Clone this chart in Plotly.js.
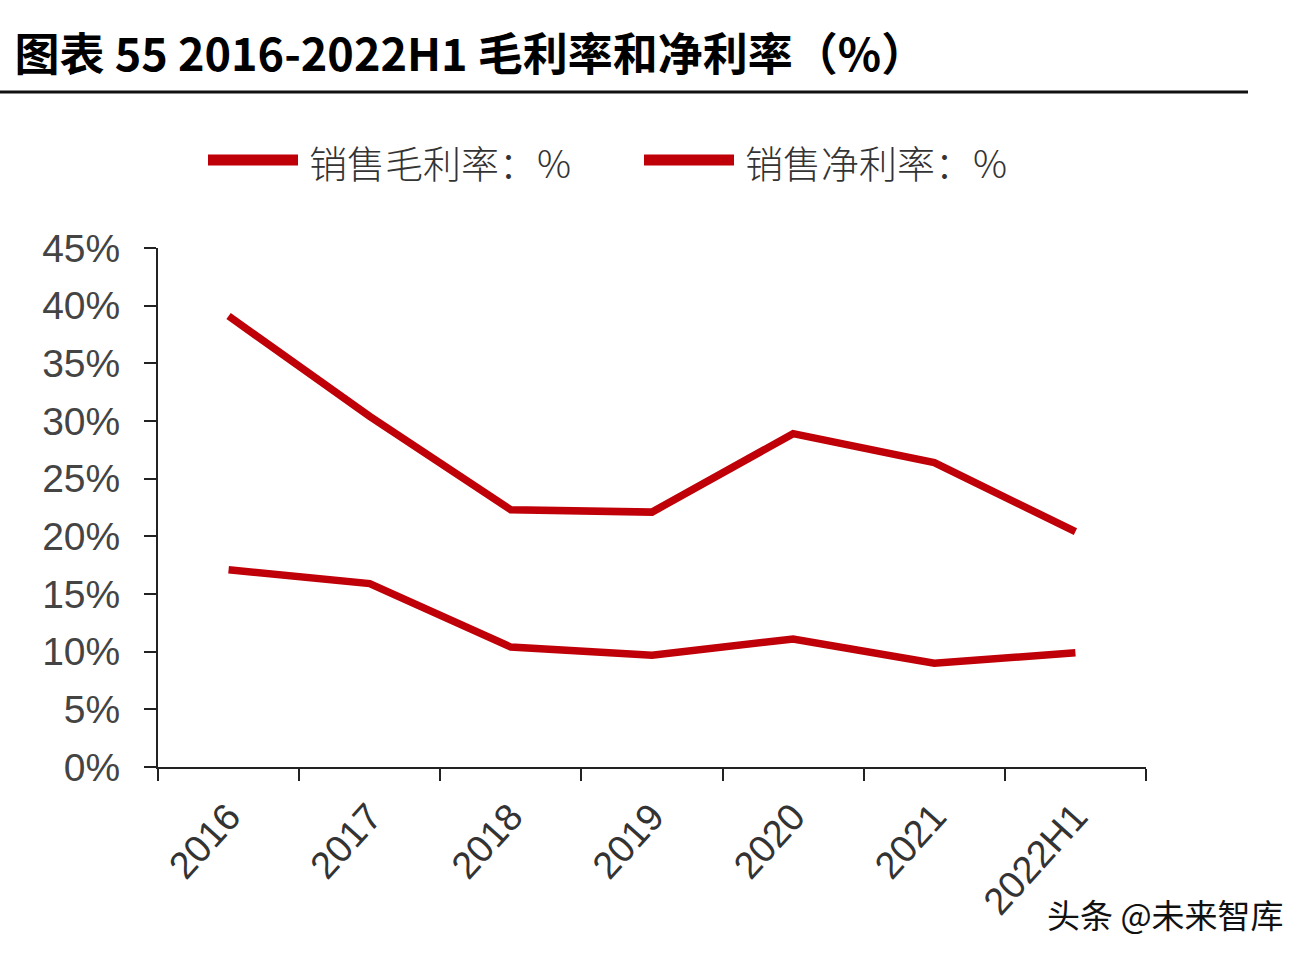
<!DOCTYPE html>
<html>
<head>
<meta charset="utf-8">
<script src="https://cdn.plot.ly/plotly-3.0.1.min.js"></script>
<style>html,body{margin:0;padding:0;background:#fff;}#chart{width:1312px;height:960px;}</style>
</head>
<body>
<div id="chart"></div>
<script>
const categories = ['2016','2017','2018','2019','2020','2021','2022H1'];
const grossMargin = [39.1, 30.4, 22.3, 22.1, 28.9, 26.4, 20.4];
const netMargin = [17.1, 15.9, 10.4, 9.7, 11.1, 9.0, 9.9];
const seriesNames = ['销售毛利率：%', '销售净利率：%'];
const yTicks = [0,5,10,15,20,25,30,35,40,45];

const RED = '#C00008';
const W = 1312, H = 960;
const L = 158, R = 1146, T = 248, B = 767;
const px = x => (x - L) / (R - L);
const py = y => (B - y) / (B - T);

const traces = [
  {x: categories, y: grossMargin, name: seriesNames[0], type: 'scatter', mode: 'lines',
   line: {color: RED, width: 7.5}, showlegend: false},
  {x: categories, y: netMargin, name: seriesNames[1], type: 'scatter', mode: 'lines',
   line: {color: RED, width: 7.5}, showlegend: false}
];

const layout = {
  width: W, height: H,
  margin: {l: L, r: W - R, t: T, b: H - B},
  paper_bgcolor: '#ffffff', plot_bgcolor: '#ffffff',
  title: {text: '图表 55 2016-2022H1 毛利率和净利率（%）', xref: 'container', yref: 'container',
          x: 0.011, xanchor: 'left', y: 1 - 55/H, yanchor: 'middle',
          font: {family: '"Noto Sans CJK SC", sans-serif', size: 45, color: '#000', weight: 700}},
  xaxis: {type: 'category', range: [-0.5, 6.5], showline: true, linecolor: '#222', linewidth: 2,
          ticks: 'outside', ticklen: 12, tickwidth: 2, tickcolor: '#222', tickson: 'boundaries',
          tickangle: -48, showgrid: false, zeroline: false, ticklabelstandoff: 10,
          tickfont: {family: '"Liberation Sans", Arial, sans-serif', size: 38, color: '#333'}},
  yaxis: {range: [0, 45], tickvals: yTicks, ticktext: yTicks.map(v => v + '%'),
          showline: true, linecolor: '#222', linewidth: 2, ticks: 'outside', ticklen: 12,
          tickwidth: 2, tickcolor: '#222', showgrid: false, zeroline: false, ticklabelstandoff: 16,
          tickfont: {family: '"Liberation Sans", Arial, sans-serif', size: 39, color: '#444'}},
  shapes: [
    {type: 'line', xref: 'paper', yref: 'paper', x0: px(0), x1: px(1248), y0: py(92), y1: py(92),
     line: {color: '#111', width: 3}},
    {type: 'line', xref: 'paper', yref: 'paper', x0: px(208), x1: px(298), y0: py(160), y1: py(160),
     line: {color: RED, width: 11}},
    {type: 'line', xref: 'paper', yref: 'paper', x0: px(644), x1: px(734), y0: py(160), y1: py(160),
     line: {color: RED, width: 11}}
  ],
  annotations: [
    {xref: 'paper', yref: 'paper', x: px(307), y: py(161), xanchor: 'left', yanchor: 'middle',
     text: seriesNames[0], showarrow: false,
     font: {family: '"Noto Sans CJK SC", sans-serif', size: 38, color: '#333', weight: 300}},
    {xref: 'paper', yref: 'paper', x: px(743), y: py(161), xanchor: 'left', yanchor: 'middle',
     text: seriesNames[1], showarrow: false,
     font: {family: '"Noto Sans CJK SC", sans-serif', size: 38, color: '#333', weight: 300}},
    {xref: 'paper', yref: 'paper', x: px(1286), y: py(914), xanchor: 'right', yanchor: 'middle',
     text: '头条 @未来智库', showarrow: false,
     font: {family: '"Noto Sans CJK SC", sans-serif', size: 33, color: '#111'}}
  ]
};

Plotly.newPlot('chart', traces, layout, {displayModeBar: false, staticPlot: true});
</script>
</body>
</html>
